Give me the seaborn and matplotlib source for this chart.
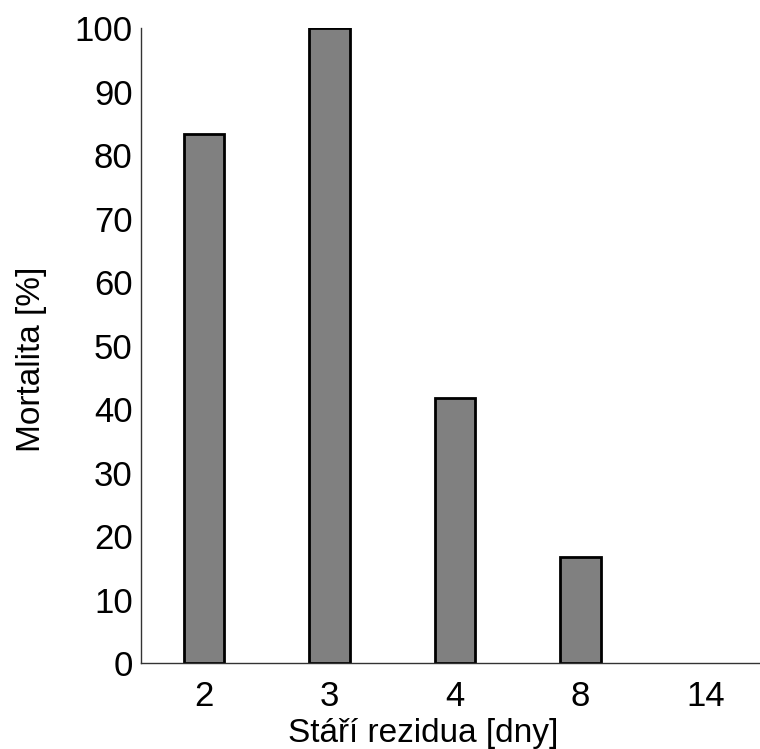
import matplotlib
matplotlib.use("Agg")
import matplotlib.pyplot as plt
import seaborn as sns
import pandas as pd

categories = ["2", "3", "4", "8", "14"]
mortality = [83.33, 100.0, 41.67, 16.67, 0.0]

sns.set_theme(style="white")
plt.rcParams['font.family'] = ['Liberation Sans', 'DejaVu Sans']

df = pd.DataFrame({"age": categories, "mort": mortality})

fig = plt.figure(figsize=(7.6, 7.49), dpi=100)
ax = fig.add_axes([0.1855, 0.1148, 0.8145, 0.8478])
sns.barplot(data=df, x="age", y="mort", order=categories, color="#808080",
            saturation=1, width=0.32, edgecolor="black", linewidth=2, ax=ax)
for p, v in zip(ax.patches, mortality):
    if v == 0:
        p.set_linewidth(0)
ax.set_xlim(-0.502, 4.43)
ax.set_ylim(0, 100)
ax.set_yticks(range(0, 101, 10))
ax.tick_params(axis="both", length=0, labelsize=25, colors="black")
ax.tick_params(axis="x", pad=12)
ax.tick_params(axis="y", pad=6)
ax.set_xlabel("Stáří rezidua [dny]", fontsize=24, color="black")
ax.set_ylabel("Mortalita [%]", fontsize=24, color="black")
ax.xaxis.set_label_coords(0.456, -0.086)
ax.yaxis.set_label_coords(-0.152, 0.4787)
for s in ["top", "right"]:
    ax.spines[s].set_visible(False)
for s in ["left", "bottom"]:
    ax.spines[s].set_color("#333333")
    ax.spines[s].set_linewidth(1)
fig.savefig("out.png", dpi=100)
